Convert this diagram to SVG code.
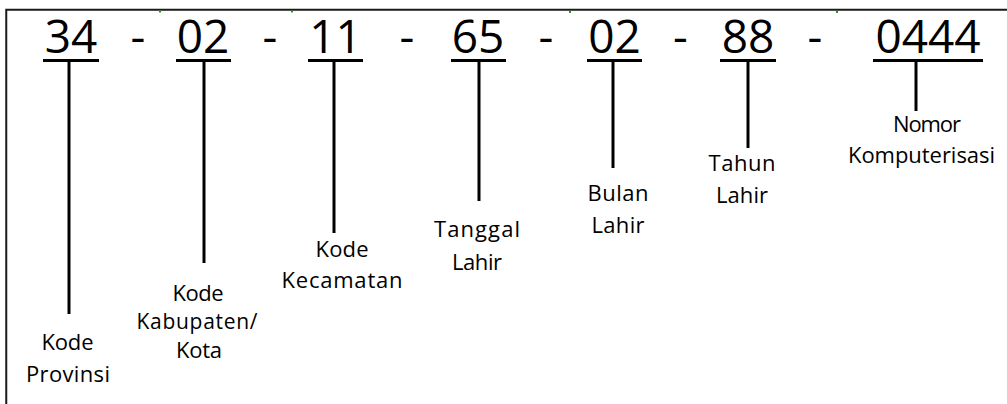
<svg xmlns="http://www.w3.org/2000/svg" width="1007" height="404" viewBox="0 0 1007 404">
  <style>
    .num { font-family: "Open Sans", "Liberation Sans", sans-serif; font-size: 46px; fill: #000; text-anchor: middle; }
    .dash { font-family: "Open Sans", "Liberation Sans", sans-serif; font-size: 46px; fill: #000; text-anchor: middle; }
    .lbl { font-family: "Open Sans", "Liberation Sans", sans-serif; font-size: 22px; fill: #000; text-anchor: middle; }
    .lbl-tight { font-size: 21px; }
    .bar { fill: #000; }
    .conn line { stroke: #000; stroke-width: 3; }
    .tick { fill: #1f9a2a; }
  </style>

  <rect width="1007" height="404" fill="#fff"/>

  <!-- frame: open on the right and bottom -->
  <path d="M1007 9.75 H6.25 V404" fill="none" stroke="#1a1a1a" stroke-width="2"/>
  <rect class="tick" x="159" y="10.5" width="2" height="2"/>
  <rect class="tick" x="291" y="10.5" width="2" height="2"/>
  <rect class="tick" x="569" y="11" width="2" height="2"/>
  <rect class="tick" x="836" y="11" width="2" height="2"/>

  <!-- separators -->
  <g id="separators">
    <text class="dash" x="138" y="53">-</text>
    <text class="dash" x="270" y="53">-</text>
    <text class="dash" x="407" y="53">-</text>
    <text class="dash" x="546" y="53">-</text>
    <text class="dash" x="680.5" y="53">-</text>
    <text class="dash" x="815" y="53">-</text>
  </g>

  <!-- connectors from each underlined segment down to its caption -->
  <g id="connectors" class="conn">
    <line x1="69" y1="62" x2="69" y2="314"/>
    <line x1="204" y1="62" x2="204" y2="263"/>
    <line x1="334" y1="62" x2="334" y2="233"/>
    <line x1="479" y1="62" x2="479" y2="201"/>
    <line x1="613" y1="62" x2="613" y2="168"/>
    <line x1="748" y1="62" x2="748" y2="148"/>
    <line x1="916" y1="62" x2="916" y2="111"/>
  </g>

  <g id="provinsi">
    <text class="num" x="71" y="53">34</text>
    <rect class="bar" x="43" y="59" width="56" height="3"/>
    <text class="lbl" x="67.5" y="350" textLength="52" lengthAdjust="spacing">Kode</text>
    <text class="lbl" x="68" y="382" textLength="84" lengthAdjust="spacing">Provinsi</text>
  </g>

  <g id="kabupaten">
    <text class="num" x="203" y="53">02</text>
    <rect class="bar" x="176" y="59" width="55" height="3"/>
    <text class="lbl" x="198" y="301" textLength="51" lengthAdjust="spacing">Kode</text>
    <text class="lbl lbl-tight" x="197" y="329" textLength="121" lengthAdjust="spacing">Kabupaten/</text>
    <text class="lbl" x="199" y="358" textLength="46" lengthAdjust="spacing">Kota</text>
  </g>

  <g id="kecamatan">
    <text class="num" x="335.5" y="53">11</text>
    <rect class="bar" x="308" y="59" width="55" height="3"/>
    <text class="lbl" x="342" y="257" textLength="53" lengthAdjust="spacing">Kode</text>
    <text class="lbl" x="342" y="288" textLength="121" lengthAdjust="spacing">Kecamatan</text>
  </g>

  <g id="tanggal">
    <text class="num" x="478" y="53">65</text>
    <rect class="bar" x="451" y="59" width="55" height="3"/>
    <text class="lbl" x="477" y="237" textLength="86" lengthAdjust="spacing">Tanggal</text>
    <text class="lbl" x="477" y="270" textLength="50" lengthAdjust="spacing">Lahir</text>
  </g>

  <g id="bulan">
    <text class="num" x="614.5" y="53">02</text>
    <rect class="bar" x="587" y="59" width="55" height="3"/>
    <text class="lbl" x="618" y="201" textLength="61" lengthAdjust="spacing">Bulan</text>
    <text class="lbl" x="618" y="233" textLength="53" lengthAdjust="spacing">Lahir</text>
  </g>

  <g id="tahun">
    <text class="num" x="748" y="53">88</text>
    <rect class="bar" x="720" y="59" width="56" height="3"/>
    <text class="lbl" x="742" y="171" textLength="67" lengthAdjust="spacing">Tahun</text>
    <text class="lbl" x="742" y="203" textLength="52" lengthAdjust="spacing">Lahir</text>
  </g>

  <g id="nomor">
    <text class="num" x="928" y="53">0444</text>
    <rect class="bar" x="873" y="59" width="110" height="3"/>
    <text class="lbl" x="927" y="132" textLength="68" lengthAdjust="spacing">Nomor</text>
    <text class="lbl" x="921.5" y="163" textLength="147" lengthAdjust="spacing">Komputerisasi</text>
  </g>
</svg>
